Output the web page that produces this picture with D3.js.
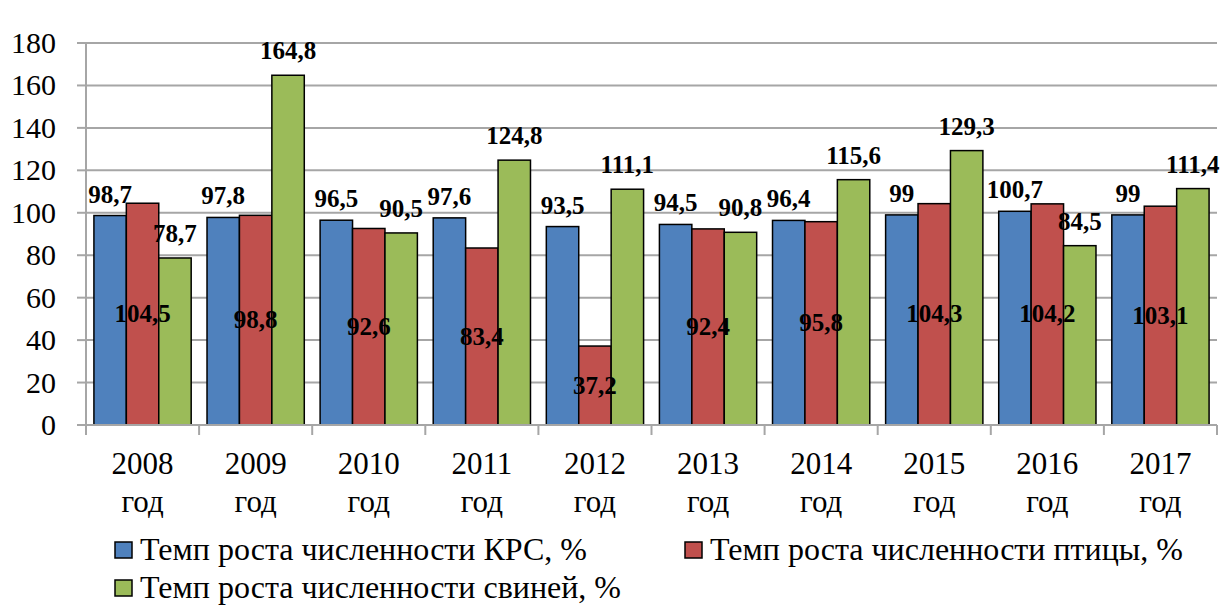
<!DOCTYPE html>
<html><head><meta charset="utf-8">
<script src="https://cdn.jsdelivr.net/npm/d3@7"></script>
<style>body{margin:0;background:#fff}</style>
</head><body><svg id="c" width="1227" height="606"></svg>
<script>
const years = ["2008","2009","2010","2011","2012","2013","2014","2015","2016","2017"];
const cattle = [98.7,97.8,96.5,97.6,93.5,94.5,96.4,99,100.7,99];
const poultry = [104.5,98.8,92.6,83.4,37.2,92.4,95.8,104.3,104.2,103.1];
const pigs = [78.7,164.8,90.5,124.8,111.1,90.8,115.6,129.3,84.5,111.4];
const yTicks = [0,20,40,60,80,100,120,140,160,180];
const seriesNames = ["Темп роста численности КРС, %","Темп роста численности птицы, %","Темп роста численности свиней, %"];
const colors = ["#4f81bd","#c0504d","#9bbb59"];
const FF = '"Liberation Serif"';

const svg = d3.select("#c");
const L=86, R=1217, T=43, B=425;
const x = d3.scaleBand().domain(years).range([L,R]).paddingInner(0.14).paddingOuter(0.07);
const band = d3.scaleBand().domain(years).range([L,R]);
const sub = d3.scaleBand().domain([0,1,2]).range([0,x.bandwidth()]);
const y = d3.scaleLinear().domain([0,180]).range([B,T]);
const fmt = v => String(v).replace(".", ",");

// gridlines
svg.append("g").selectAll("line").data(yTicks.filter(d=>d>0)).join("line")
  .attr("x1",L).attr("x2",R).attr("y1",d=>y(d)).attr("y2",d=>y(d))
  .attr("stroke","#a6a6a6").attr("stroke-width",2);

// y axis (drawn manually from the scale)
const ya = svg.append("g");
ya.append("line").attr("x1",L).attr("x2",L).attr("y1",T).attr("y2",B).attr("stroke","#a6a6a6").attr("stroke-width",2);
ya.selectAll("line.tk").data(yTicks).join("line").attr("class","tk")
  .attr("x1",L-9).attr("x2",L).attr("y1",d=>y(d)).attr("y2",d=>y(d)).attr("stroke","#a6a6a6").attr("stroke-width",2);
ya.selectAll("text").data(yTicks).join("text")
  .attr("x",L-30).attr("y",d=>y(d)+10).attr("text-anchor","end")
  .style("font-family",FF).style("font-size","30px").text(d=>d);

// bars
const series = [cattle,poultry,pigs];
series.forEach((arr,si)=>{
  svg.append("g").selectAll("rect").data(arr).join("rect")
    .attr("x",(d,i)=>x(years[i])+sub(si))
    .attr("width",sub.bandwidth())
    .attr("y",d=>y(d)).attr("height",d=>B-y(d))
    .attr("fill",colors[si]).attr("stroke","#000").attr("stroke-width",1.5);
});

// x axis
const xa = svg.append("g");
xa.append("line").attr("x1",L).attr("x2",R).attr("y1",B).attr("y2",B).attr("stroke","#a6a6a6").attr("stroke-width",2);
const bounds = years.map(d=>band(d)).concat([R]);
xa.selectAll("line.t").data(bounds).join("line").attr("class","t")
  .attr("x1",d=>d).attr("x2",d=>d).attr("y1",B).attr("y2",B+10).attr("stroke","#a6a6a6").attr("stroke-width",2);
const cx = d=>band(d)+band.bandwidth()/2;
xa.selectAll("text.yr").data(years).join("text").attr("class","yr")
  .attr("x",cx).attr("y",B+49).attr("text-anchor","middle")
  .style("font-family",FF).style("font-size","31px").text(d=>d);
xa.selectAll("text.god").data(years).join("text").attr("class","god")
  .attr("x",cx).attr("y",B+87).attr("text-anchor","middle")
  .style("font-family",FF).style("font-size","31px").text("год");

// labels
const lab = svg.append("g");
const addLab = (xx,yy,t)=>lab.append("text").attr("x",xx).attr("y",yy).attr("text-anchor","middle")
  .style("font-family",FF).style("font-size","25px").style("font-weight","bold").text(t);
cattle.forEach((v,i)=>addLab(x(years[i])+sub(0)+sub.bandwidth()/2, y(v)-13, fmt(v)));
poultry.forEach((v,i)=>addLab(x(years[i])+sub(1)+sub.bandwidth()/2, (y(v)+B)/2+8, fmt(v)));
pigs.forEach((v,i)=>addLab(x(years[i])+sub(2)+sub.bandwidth()/2, y(v)-16, fmt(v)));

// legend
const lg = svg.append("g");
const items = [{x:115,y:542},{x:685,y:542},{x:115,y:580}];
items.forEach((p,i)=>{
  lg.append("rect").attr("x",p.x).attr("y",p.y).attr("width",17).attr("height",16)
    .attr("fill",colors[i]).attr("stroke","#000").attr("stroke-width",1.5);
  lg.append("text").attr("x",p.x+25).attr("y",p.y+18)
    .style("font-family",FF).style("font-size","32px").text(seriesNames[i]);
});
</script></body></html>
